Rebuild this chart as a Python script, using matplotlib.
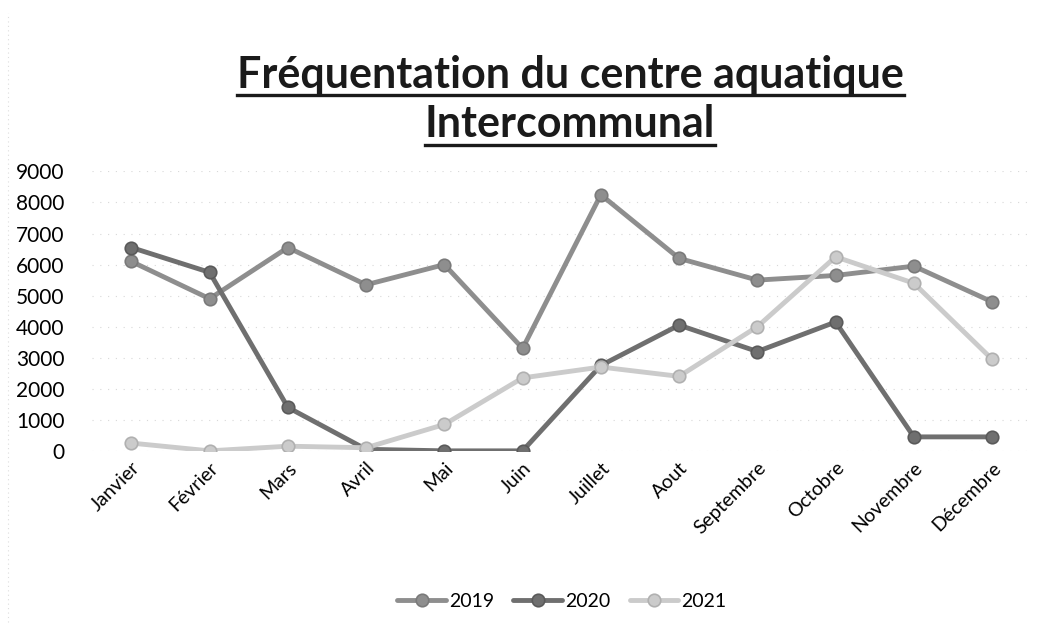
import matplotlib
matplotlib.use("Agg")
import matplotlib.pyplot as plt
from matplotlib.lines import Line2D

plt.rcParams['font.family'] = ['Lato', 'DejaVu Sans']

mois = ['Janvier', 'Février', 'Mars', 'Avril', 'Mai', 'Juin', 'Juillet',
        'Aout', 'Septembre', 'Octobre', 'Novembre', 'Décembre']
v2019 = [6100, 4900, 6550, 5350, 6000, 3300, 8250, 6200, 5500, 5650, 5950, 4800]
v2020 = [6550, 5750, 1400, 50, 0, 0, 2750, 4050, 3200, 4150, 450, 450]
v2021 = [250, 0, 150, 100, 850, 2350, 2700, 2400, 4000, 6250, 5400, 2950]

series = [('2019', v2019, '#8e8e8e', '#7a7a7a'),
          ('2020', v2020, '#6f6f6f', '#5a5a5a'),
          ('2021', v2021, '#cbcbcb', '#b0b0b0')]

fig = plt.figure(figsize=(10.48, 6.35), dpi=100)
ax = fig.add_axes([0.088, 0.29, 0.896, 0.44])

x = list(range(len(mois)))
for name, vals, col, edge in series:
    ax.plot(x, vals, color=col, lw=3.5, marker='o', markersize=9,
            markerfacecolor=col, markeredgecolor=edge, markeredgewidth=1.2,
            label=name, solid_capstyle='round')

ax.set_xlim(-0.5, len(mois) - 0.5)
ax.set_ylim(0, 9000)
ax.set_yticks(range(0, 9001, 1000))
ax.set_xticks(x)
ax.set_xticklabels(mois, rotation=45, ha='right', rotation_mode='anchor', fontsize=14)
ax.tick_params(axis='y', labelsize=15, length=0, pad=20)
ax.tick_params(axis='x', length=0, pad=6)
ax.grid(axis='y', color='#d8d8d8', lw=0.8, ls=(0, (1, 6)))
for s in ax.spines.values():
    s.set_visible(False)

leg = ax.legend(loc='upper center', bbox_to_anchor=(0.5, -0.445), ncol=3,
                frameon=False, fontsize=14, handlelength=2.5, columnspacing=1.0,
                handletextpad=0.15)

# titre souligné
t1 = fig.text(0.544, 0.862, 'Fréquentation du centre aquatique', ha='center',
              va='baseline', fontsize=31, fontweight='bold', color='#1a1a1a')
t2 = fig.text(0.544, 0.784, 'Intercommunal', ha='center', va='baseline',
              fontsize=31, fontweight='bold', color='#1a1a1a')
fig.canvas.draw()
r = fig.canvas.get_renderer()
inv = fig.transFigure.inverted()
for t in (t1, t2):
    bb = t.get_window_extent(r)
    (x0, _), (x1, _) = inv.transform([(bb.x0, 0), (bb.x1, 0)])
    yb = t.get_position()[1] - 0.012
    fig.add_artist(Line2D([x0, x1], [yb, yb], color='#1a1a1a', lw=2.4,
                          transform=fig.transFigure))

fig.add_artist(Line2D([0.008, 0.008], [0.02, 0.98], color='#dddddd', lw=0.8,
                      ls=(0, (1, 3)), transform=fig.transFigure))

fig.savefig('out.png', dpi=100, facecolor='white')
